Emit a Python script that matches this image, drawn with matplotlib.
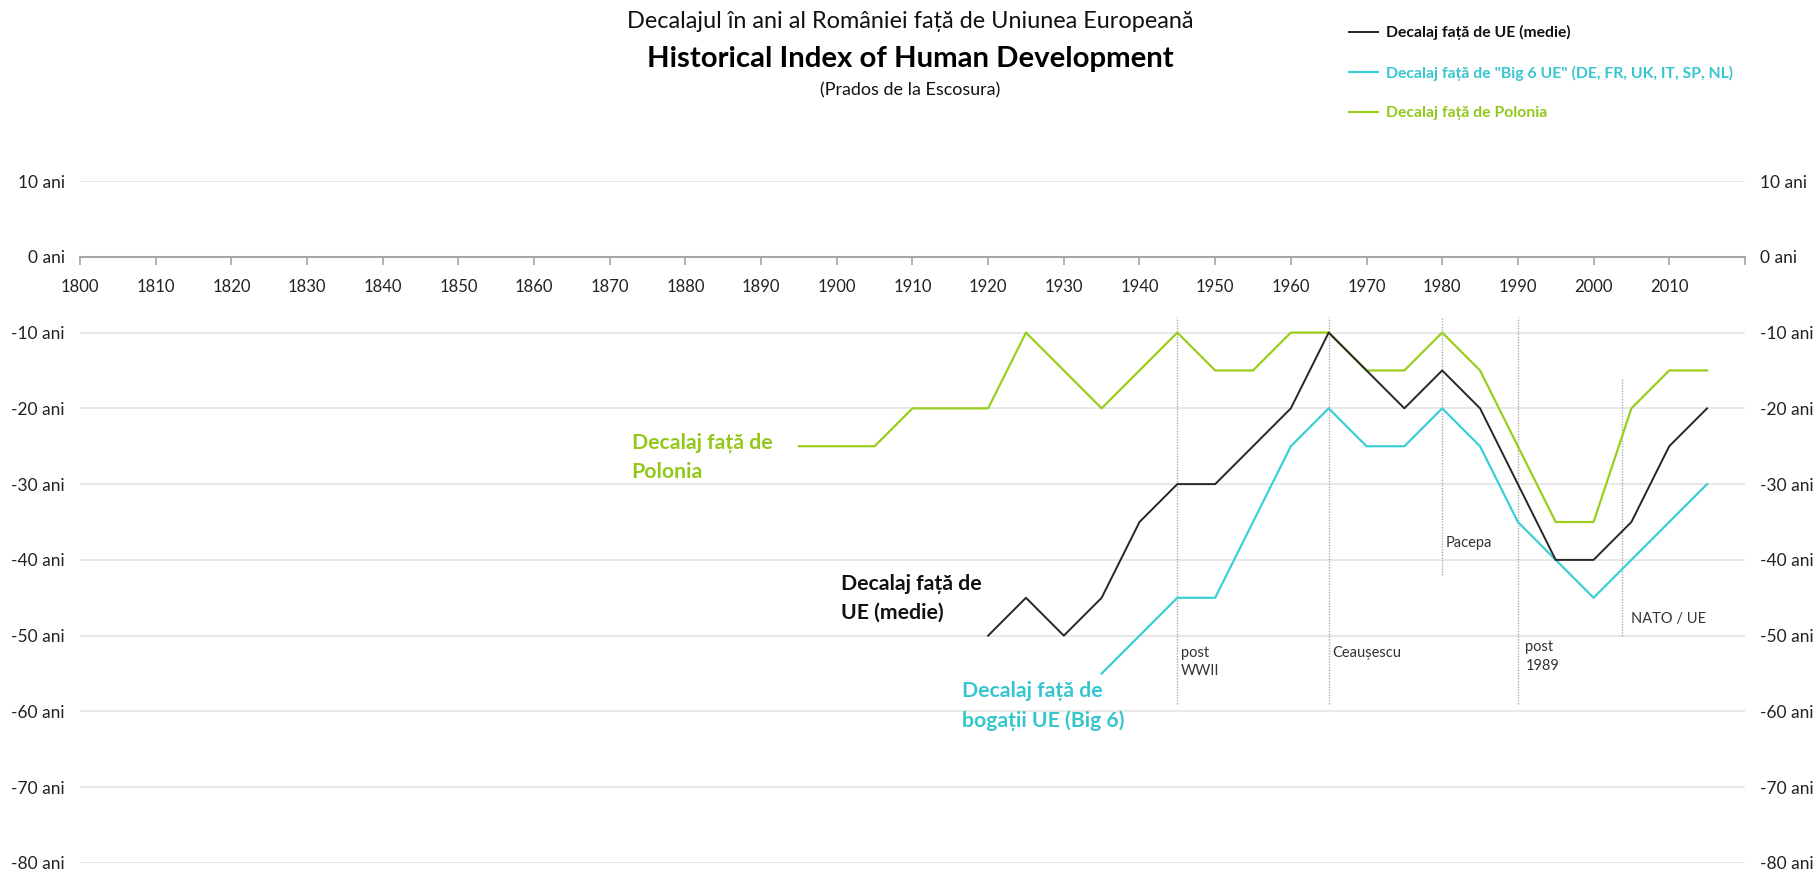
"""Decalajul Romaniei fata de UE - Historical Index of Human Development."""

import matplotlib
matplotlib.use("Agg")
import matplotlib.pyplot as plt
from matplotlib.lines import Line2D

plt.rcParams["font.family"] = ["Lato", "DejaVu Sans"]

# Data (decalaj in ani)
years_ue = [1920, 1925, 1930, 1935, 1940, 1945, 1950, 1955, 1960, 1965,
            1970, 1975, 1980, 1985, 1990, 1995, 2000, 2005, 2010, 2015]
gap_ue = [-50, -45, -50, -45, -35, -30, -30, -25, -20, -10,
          -15, -20, -15, -20, -30, -40, -40, -35, -25, -20]

years_big6 = [1935, 1940, 1945, 1950, 1955, 1960, 1965, 1970, 1975,
              1980, 1985, 1990, 1995, 2000, 2005, 2010, 2015]
gap_big6 = [-55, -50, -45, -45, -35, -25, -20, -25, -25,
            -20, -25, -35, -40, -45, -40, -35, -30]

years_pl = [1895, 1900, 1905, 1910, 1915, 1920, 1925, 1930, 1935, 1940,
            1945, 1950, 1955, 1960, 1965, 1970, 1975, 1980, 1985, 1990,
            1995, 2000, 2005, 2010, 2015]
gap_pl = [-25, -25, -25, -20, -20, -20, -10, -15, -20, -15,
          -10, -15, -15, -10, -10, -15, -15, -10, -15, -25,
          -35, -35, -20, -15, -15]

# Events marked with dotted lines
event_years = [1945, 1965, 1980, 1990, 2003.7]
event_top = [-8, -8, -8, -8, -16]
event_bottom = [-59, -59, -42, -59, -50]
event_labels = ["post\nWWII", "Ceaușescu", "Pacepa", "post\n1989", "NATO / UE"]

y_ticks = [-80, -70, -60, -50, -40, -30, -20, -10, 0, 10]
y_labels = [f"{v} ani" for v in y_ticks]
x_ticks = list(range(1800, 2021, 10))
x_labels = [str(v) for v in x_ticks[:-1]] + [""]

# Colours
c_ue = "#262626"
c_big6 = "#3ccfd6"
c_pl = "#9acd1e"

fig = plt.figure(figsize=(18.18, 8.74), dpi=100)
ax = fig.add_axes([0.0440, 0.01259, 0.9158, 0.7803])

ax.plot(years_pl, gap_pl, color=c_pl, lw=1.6, zorder=3)
ax.plot(years_ue, gap_ue, color=c_ue, lw=1.4, zorder=4)
ax.plot(years_big6, gap_big6, color=c_big6, lw=1.6, zorder=3)

# Event lines + labels
label_dx = [0.45, 0.45, 0.5, 1.0, 1.3]
label_y = [-51.3, -51.3, -36.9, -50.6, -46.9]
for yr, top, bot, lab, dx, ly in zip(event_years, event_top, event_bottom,
                                     event_labels, label_dx, label_y):
    ax.plot([yr, yr], [bot, top], color="#acacac", lw=1.0,
            ls=(0, (1, 1)), zorder=2)
    ax.text(yr + dx, ly, lab, fontsize=10.5, color="#333333",
            ha="left", va="top", linespacing=1.45)

# Inline series labels
ax.text(1872.9, -26.5, "Decalaj față de\nPolonia", color="#92c81a",
        fontsize=15.3, fontweight="bold", ha="left", va="center",
        linespacing=1.6)
ax.text(1900.6, -45.1, "Decalaj față de\nUE (medie)", color="#111111",
        fontsize=15.3, fontweight="bold", ha="left", va="center",
        linespacing=1.55)
ax.text(1916.5, -59.3, "Decalaj față de\nbogații UE (Big 6)", color="#36c6cd",
        fontsize=15.3, fontweight="bold", ha="left", va="center",
        linespacing=1.55)

# Axes formatting
ax.set_xlim(1800, 2020)
ax.set_ylim(-80, 10)
ax.set_yticks(y_ticks)
ax.set_yticklabels(y_labels)
ax.set_xticks(x_ticks)
ax.set_xticklabels(x_labels)
ax.tick_params(axis="y", length=0, labelsize=12.5, pad=11,
               labelleft=True, labelright=True, labelcolor="#222222")
ax.tick_params(axis="x", length=6, width=1.2, color="#a6a6a6",
               direction="out", labelsize=12, pad=10, labelcolor="#222222")
for s in ["left", "right", "top"]:
    ax.spines[s].set_visible(False)
ax.spines["bottom"].set_position(("data", 0))
ax.spines["bottom"].set_color("#a6a6a6")
ax.spines["bottom"].set_linewidth(1.5)
ax.yaxis.grid(True, color="#e6e6e6", lw=1.3)
ax.set_axisbelow(True)

# Titles
fig.text(0.5006, 1 - 22 / 874, "Decalajul în ani al României față de Uniunea Europeană",
         ha="center", va="center", fontsize=16.9, color="#111111")
fig.text(0.5006, 1 - 59 / 874, "Historical Index of Human Development",
         ha="center", va="center", fontsize=21.2, fontweight="bold",
         color="#000000")
fig.text(0.5006, 1 - 90.5 / 874, "(Prados de la Escosura)",
         ha="center", va="center", fontsize=12.9, color="#111111")

# Legend
handles = [
    Line2D([], [], color=c_ue, lw=1.4),
    Line2D([], [], color=c_big6, lw=1.6),
    Line2D([], [], color=c_pl, lw=1.6),
]
names = ["Decalaj față de UE (medie)",
         'Decalaj față de "Big 6 UE" (DE, FR, UK, IT, SP, NL)',
         "Decalaj față de Polonia"]
leg = fig.legend(handles, names, loc="upper left",
                 bbox_to_anchor=(1335 / 1818, 1 - 11 / 874), frameon=False,
                 prop={"weight": "bold", "size": 11.3},
                 handlelength=1.85, handletextpad=0.5, labelspacing=1.63)
for txt, col in zip(leg.get_texts(), ["#111111", "#36c6cd", "#92c81a"]):
    txt.set_color(col)

plt.savefig("out.png", dpi=100)
